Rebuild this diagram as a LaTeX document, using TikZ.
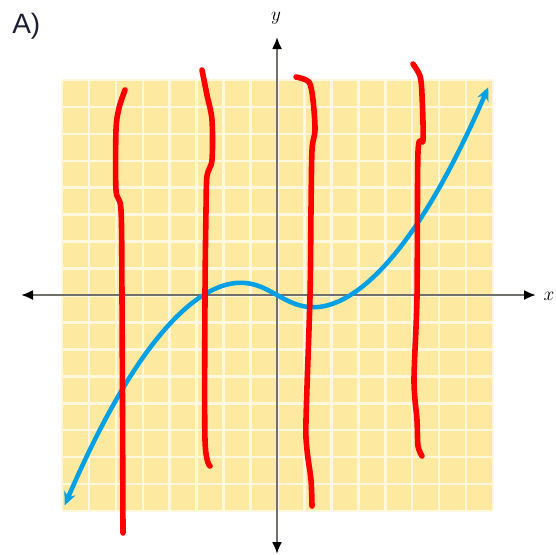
\documentclass[tikz,border=0pt]{standalone}
\usepackage{fontspec}
\newfontfamily\labelsans{Liberation Sans}
\usetikzlibrary{arrows.meta}
\definecolor{gridfill}{RGB}{253,234,160}
\definecolor{gridline}{RGB}{255,247,222}
\definecolor{curveblue}{RGB}{0,160,228}
\definecolor{markred}{RGB}{255,0,0}
\definecolor{axisgray}{RGB}{112,112,108}
\tikzset{
  axisline/.style={draw=axisgray, line width=1.6pt, arrows={Latex[black,length=9pt,width=7.5pt]-Latex[black,length=9pt,width=7.5pt]}},
  redmark/.style={draw=markred, line width=4.2pt, line cap=round, line join=round},
  bluecurve/.style={draw=curveblue, line width=3.4pt, arrows={Stealth[curveblue,length=10pt,width=9pt]-Stealth[curveblue,length=10pt,width=9pt]}},
  axislabel/.style={font=\fontsize{15}{15}\selectfont, inner sep=0pt}
}
\begin{document}
\begin{tikzpicture}[x=0.75pt,y=-0.75pt]
\path[use as bounding box] (0,0) rectangle (556,554);
% grid
\fill[gridfill] (62,80) rectangle (493,510);
\foreach \i in {0,...,16}{
  \draw[gridline, line width=1.9pt] ({62+26.9375*\i},80) -- ({62+26.9375*\i},510);
  \draw[gridline, line width=1.9pt] (62,{80+26.9375*\i}) -- (493,{80+26.9375*\i});
}
% axes
\coordinate (xl) at (21,295);
\coordinate (xr) at (536,295);
\coordinate (yt) at (277,37);
\coordinate (yb) at (277,554);
\draw[axisline] (xl) -- (xr);
\draw[axisline] (yb) -- (yt);
\node[axislabel] (xlab) at (549,296) {$x$};
\node[axislabel] (ylab) at (276,18) {$y$};
\node[inner sep=0pt, anchor=west, font=\labelsans\fontsize{21}{21}\selectfont, text={rgb,255:red,30;green,30;blue,50}] (title) at (12,26) {A)};
% blue curve
\draw[bluecurve] plot[domain=-7.88:7.84, samples=120, smooth]
  ({277+26.94*\x}, {295-26.94*(\x*\x*\x-7.45*\x)/(4.32+6.35*sqrt(\x*\x+2))});
% red marks
\draw[redmark] plot[smooth, tension=0.5] coordinates {(125,90) (119,108) (116,130) (116,190) (121,210) (122,296) (123,533)};
\draw[redmark] plot[smooth, tension=0.5] coordinates {(202,70) (207,95) (212,120) (212,160) (207,176) (206,210) (205,296) (205,440) (210,466)};
\draw[redmark] plot[smooth, tension=0.5] coordinates {(296,77) (309,82) (313,100) (315,130) (312,150) (311,210) (310,296) (306,420) (307,450) (311,480) (312,506)};
\draw[redmark] plot[smooth, tension=0.5] coordinates {(413,64) (420,76) (422,95) (423,140) (418,152) (417,296) (414,380) (417,420) (418,446) (422,456)};
\end{tikzpicture}
\end{document}
